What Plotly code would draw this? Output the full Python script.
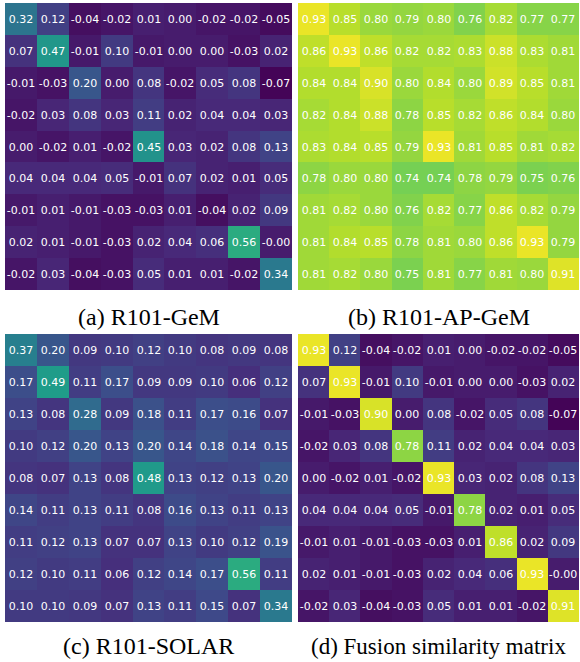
import plotly.graph_objects as go

W, H = 580, 662

gem = [
    [0.32, 0.12, -0.04, -0.02, 0.01, 0.00, -0.02, -0.02, -0.05],
    [0.07, 0.47, -0.01, 0.10, -0.01, 0.00, 0.00, -0.03, 0.02],
    [-0.01, -0.03, 0.20, 0.00, 0.08, -0.02, 0.05, 0.08, -0.07],
    [-0.02, 0.03, 0.08, 0.03, 0.11, 0.02, 0.04, 0.04, 0.03],
    [0.00, -0.02, 0.01, -0.02, 0.45, 0.03, 0.02, 0.08, 0.13],
    [0.04, 0.04, 0.04, 0.05, -0.01, 0.07, 0.02, 0.01, 0.05],
    [-0.01, 0.01, -0.01, -0.03, -0.03, 0.01, -0.04, 0.02, 0.09],
    [0.02, 0.01, -0.01, -0.03, 0.02, 0.04, 0.06, 0.56, -0.0],
    [-0.02, 0.03, -0.04, -0.03, 0.05, 0.01, 0.01, -0.02, 0.34],
]

ap_gem = [
    [0.93, 0.85, 0.80, 0.79, 0.80, 0.76, 0.82, 0.77, 0.77],
    [0.86, 0.93, 0.86, 0.82, 0.82, 0.83, 0.88, 0.83, 0.81],
    [0.84, 0.84, 0.90, 0.80, 0.84, 0.80, 0.89, 0.85, 0.81],
    [0.82, 0.84, 0.88, 0.78, 0.85, 0.82, 0.86, 0.84, 0.80],
    [0.83, 0.84, 0.85, 0.79, 0.93, 0.81, 0.85, 0.81, 0.82],
    [0.78, 0.80, 0.80, 0.74, 0.74, 0.78, 0.79, 0.75, 0.76],
    [0.81, 0.82, 0.80, 0.76, 0.82, 0.77, 0.86, 0.82, 0.79],
    [0.81, 0.84, 0.85, 0.78, 0.81, 0.80, 0.86, 0.93, 0.79],
    [0.81, 0.82, 0.80, 0.75, 0.81, 0.77, 0.81, 0.80, 0.91],
]

solar = [
    [0.37, 0.20, 0.09, 0.10, 0.12, 0.10, 0.08, 0.09, 0.08],
    [0.17, 0.49, 0.11, 0.17, 0.09, 0.09, 0.10, 0.06, 0.12],
    [0.13, 0.08, 0.28, 0.09, 0.18, 0.11, 0.17, 0.16, 0.07],
    [0.10, 0.12, 0.20, 0.13, 0.20, 0.14, 0.18, 0.14, 0.15],
    [0.08, 0.07, 0.13, 0.08, 0.48, 0.13, 0.12, 0.13, 0.20],
    [0.14, 0.11, 0.13, 0.11, 0.08, 0.16, 0.13, 0.11, 0.13],
    [0.11, 0.12, 0.13, 0.07, 0.07, 0.13, 0.10, 0.12, 0.19],
    [0.12, 0.10, 0.11, 0.06, 0.12, 0.14, 0.17, 0.56, 0.11],
    [0.10, 0.10, 0.09, 0.07, 0.13, 0.11, 0.15, 0.07, 0.34],
]

fusion = [
    [0.93, 0.12, -0.04, -0.02, 0.01, 0.00, -0.02, -0.02, -0.05],
    [0.07, 0.93, -0.01, 0.10, -0.01, 0.00, 0.00, -0.03, 0.02],
    [-0.01, -0.03, 0.90, 0.00, 0.08, -0.02, 0.05, 0.08, -0.07],
    [-0.02, 0.03, 0.08, 0.78, 0.11, 0.02, 0.04, 0.04, 0.03],
    [0.00, -0.02, 0.01, -0.02, 0.93, 0.03, 0.02, 0.08, 0.13],
    [0.04, 0.04, 0.04, 0.05, -0.01, 0.78, 0.02, 0.01, 0.05],
    [-0.01, 0.01, -0.01, -0.03, -0.03, 0.01, 0.86, 0.02, 0.09],
    [0.02, 0.01, -0.01, -0.03, 0.02, 0.04, 0.06, 0.93, -0.0],
    [-0.02, 0.03, -0.04, -0.03, 0.05, 0.01, 0.01, -0.02, 0.91],
]

captions = ["(a) R101-GeM", "(b) R101-AP-GeM", "(c) R101-SOLAR", "(d) Fusion similarity matrix"]
matrices = [gem, ap_gem, solar, fusion]

ZMIN, ZMAX = -0.08, 0.96

# panel pixel boxes (left, right, top, bottom)
boxes = [(5, 292, 3, 290), (298, 579, 3, 290), (5, 292, 334, 622), (298, 579, 334, 622)]
cap_y = [317, 317, 646, 646]
cap_size = [24, 24, 24, 23]

fig = go.Figure()
for i, (m, box) in enumerate(zip(matrices, boxes)):
    n = len(m)
    txt = [[f"{v:.2f}" for v in row] for row in m]
    ax = "" if i == 0 else str(i + 1)
    fig.add_trace(go.Heatmap(
        z=m, text=txt, texttemplate="%{text}",
        textfont=dict(family="DejaVu Sans", size=11, color="white"),
        colorscale="Viridis", zmin=ZMIN, zmax=ZMAX, showscale=False,
        xaxis="x" + ax, yaxis="y" + ax, hoverinfo="skip", xgap=0, ygap=0,
    ))
    l, r, t, b = box
    xd = [l / W, r / W]
    yd = [1 - b / H, 1 - t / H]
    axcommon = dict(showgrid=False, zeroline=False, showticklabels=False, ticks="", showline=False)
    fig.update_layout(**{
        "xaxis" + ax: dict(domain=xd, range=[-0.5, n - 0.5], anchor="y" + ax, **axcommon),
        "yaxis" + ax: dict(domain=yd, range=[n - 0.5, -0.5], anchor="x" + ax, **axcommon),
    })
    fig.add_annotation(
        text=captions[i], x=((l + r) / 2) / W, y=1 - cap_y[i] / H,
        xref="paper", yref="paper", xanchor="center", yanchor="middle",
        showarrow=False, font=dict(family="Liberation Serif", size=cap_size[i], color="black"),
    )

fig.update_layout(
    width=W, height=H, margin=dict(l=0, r=0, t=0, b=0),
    paper_bgcolor="white", plot_bgcolor="white", showlegend=False,
)

fig.write_html(
    "out.html",
    config={"displayModeBar": False},
    post_script="document.body.style.margin='0';document.body.style.overflow='hidden';",
)
